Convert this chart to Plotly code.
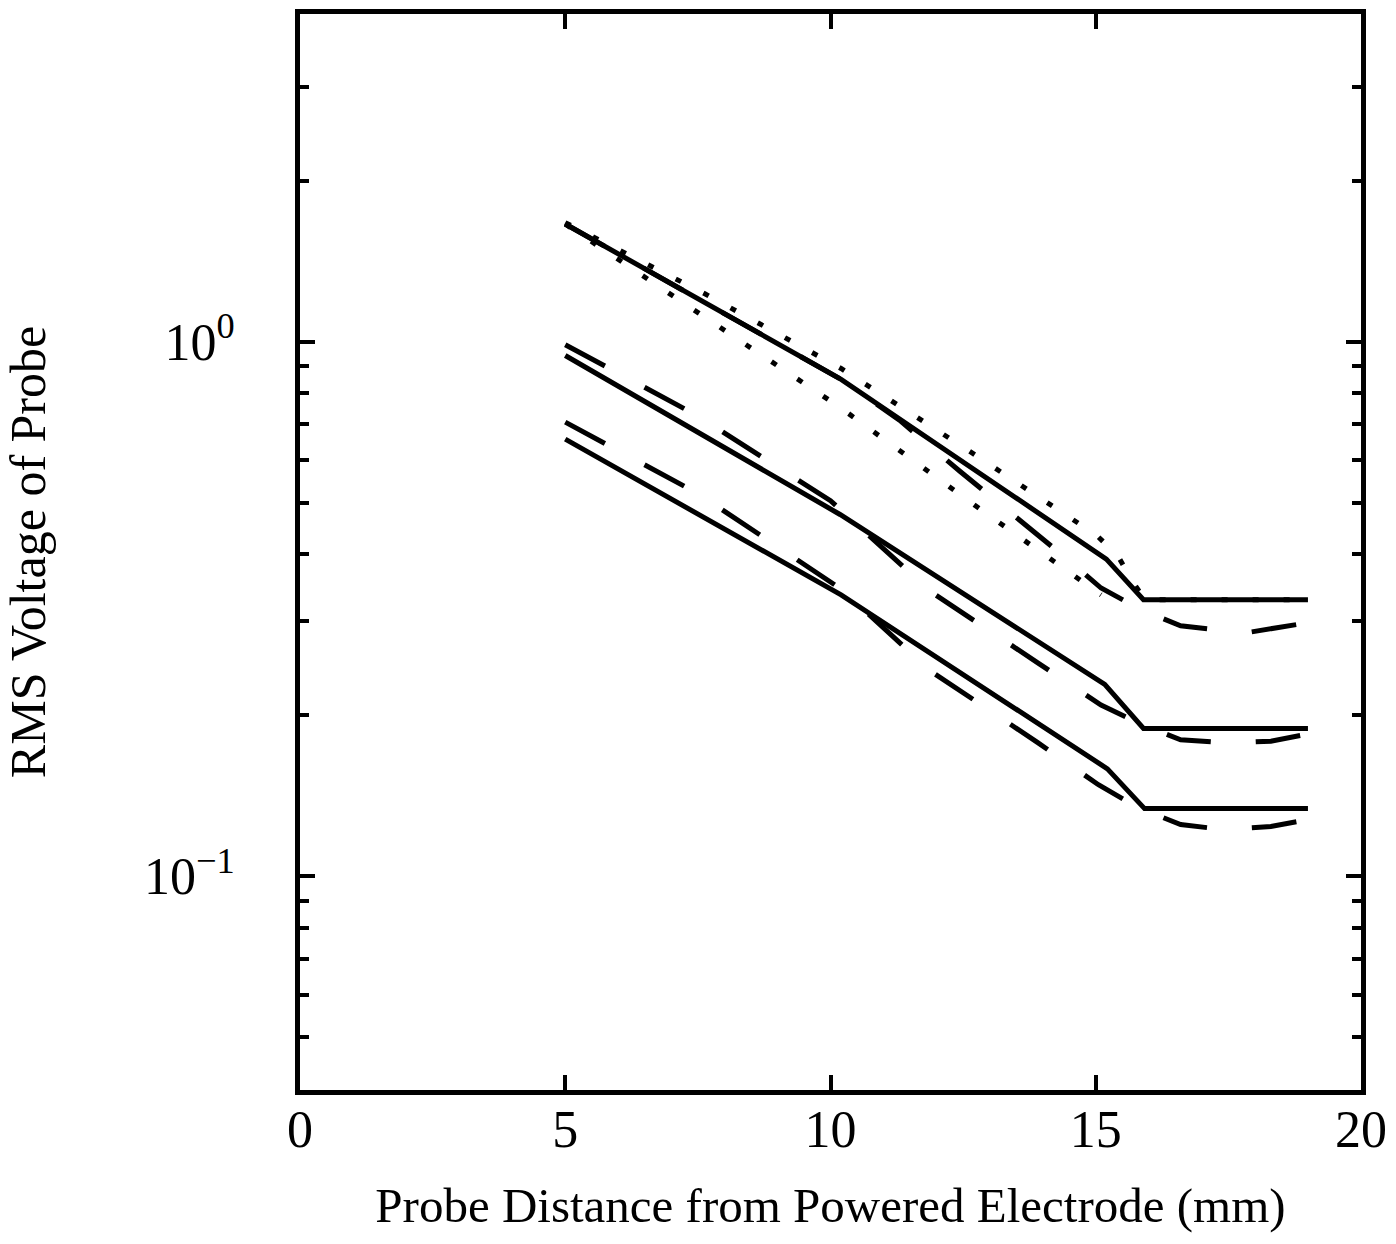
import plotly.graph_objects as go

# probe distance (mm) and rms voltage
top_solid_x = [5, 10.2, 15.2, 15.9, 19]
top_solid_y = [1.66, 0.85, 0.392, 0.329, 0.329]

top_dash_x = [5, 10.2, 11.3, 12.45, 14.42, 15.1, 15.83, 16.6, 17.8, 19]
top_dash_y = [1.66, 0.85, 0.713, 0.571, 0.395, 0.346, 0.316, 0.294, 0.285, 0.298]

upper_dot_x = [5, 7.64, 10.2, 12.64, 15.02, 15.42, 15.7, 15.93, 19]
upper_dot_y = [1.67, 1.228, 0.891, 0.622, 0.434, 0.397, 0.355, 0.329, 0.329]

lower_dot_x = [5, 7.53, 10.2, 12.76, 15.1]
lower_dot_y = [1.66, 1.132, 0.751, 0.491, 0.336]

mid_solid_x = [5, 10.18, 15.17, 15.9, 19]
mid_solid_y = [0.942, 0.475, 0.2285, 0.189, 0.189]

mid_dash_x = [5, 7.5, 10, 11.9, 13.9, 15.1, 15.85, 16.6, 17.5, 18.3, 19]
mid_dash_y = [0.987, 0.726, 0.504, 0.340, 0.251, 0.209, 0.1925, 0.180, 0.1775, 0.1789, 0.1845]

low_solid_x = [5, 10.2, 15.22, 15.92, 19]
low_solid_y = [0.657, 0.336, 0.1588, 0.1338, 0.1338]

low_dash_x = [5, 7.5, 10.2, 11.9, 13.9, 15.05, 15.8, 16.6, 17.4, 18.3, 19]
low_dash_y = [0.707, 0.520, 0.3444, 0.2415, 0.178, 0.1483, 0.1343, 0.1249, 0.1223, 0.1239, 0.1276]

y_major = [0.1, 1]
y_major_text = ['10<sup>\u22121</sup>', '10<sup>0</sup>']
y_minor = [0.05, 0.06, 0.07, 0.08, 0.09, 0.2, 0.3, 0.4, 0.5, 0.6, 0.7, 0.8, 0.9, 2, 3]

FONT = 'Liberation Serif'
LW = 5
DASH = '45px,45px'
DOT = '6px,25px'

fig = go.Figure()
series = [
    (top_solid_x, top_solid_y, 'solid'),
    (top_dash_x, top_dash_y, DASH),
    (upper_dot_x, upper_dot_y, DOT),
    (lower_dot_x, lower_dot_y, DOT),
    (mid_solid_x, mid_solid_y, 'solid'),
    (mid_dash_x, mid_dash_y, DASH),
    (low_solid_x, low_solid_y, 'solid'),
    (low_dash_x, low_dash_y, DASH),
]
for xs, ys, dash in series:
    fig.add_trace(go.Scatter(x=xs, y=ys, mode='lines',
                             line=dict(color='black', width=LW, dash=dash),
                             showlegend=False, hoverinfo='skip'))

fig.update_layout(
    width=1396, height=1244,
    margin=dict(l=300, r=35, t=9, b=154),
    paper_bgcolor='white',
    plot_bgcolor='white',
    font=dict(family=FONT, color='black', size=52),
)
fig.update_xaxes(
    range=[0, 20], tickmode='linear', tick0=0, dtick=5,
    showgrid=False, zeroline=False,
    showline=True, linewidth=5, linecolor='black', mirror='ticks',
    ticks='inside', ticklen=15, tickwidth=4, tickcolor='black',
    tickfont=dict(family=FONT, size=52),
    ticklabelstandoff=-10,
    title=dict(text='Probe Distance from Powered Electrode (mm)',
               font=dict(family=FONT, size=49), standoff=32),
)
fig.update_yaxes(
    type='log', range=[-1.4, 0.613],
    tickmode='array', tickvals=y_major, ticktext=y_major_text,
    showgrid=False, zeroline=False,
    showline=True, linewidth=5, linecolor='black', mirror='ticks',
    ticks='inside', ticklen=15, tickwidth=4, tickcolor='black',
    tickfont=dict(family=FONT, size=52),
    ticklabelstandoff=50,
    minor=dict(tickmode='array', tickvals=y_minor, ticks='inside',
               ticklen=9, tickwidth=4, tickcolor='black', showgrid=False),
    title=dict(text='RMS Voltage of Probe',
               font=dict(family=FONT, size=50), standoff=85),
)

# drop the default 8px page margin so the figure fills the window exactly
fig.write_html('out.html', config={'displayModeBar': False},
               post_script="document.body.style.margin='0';")
